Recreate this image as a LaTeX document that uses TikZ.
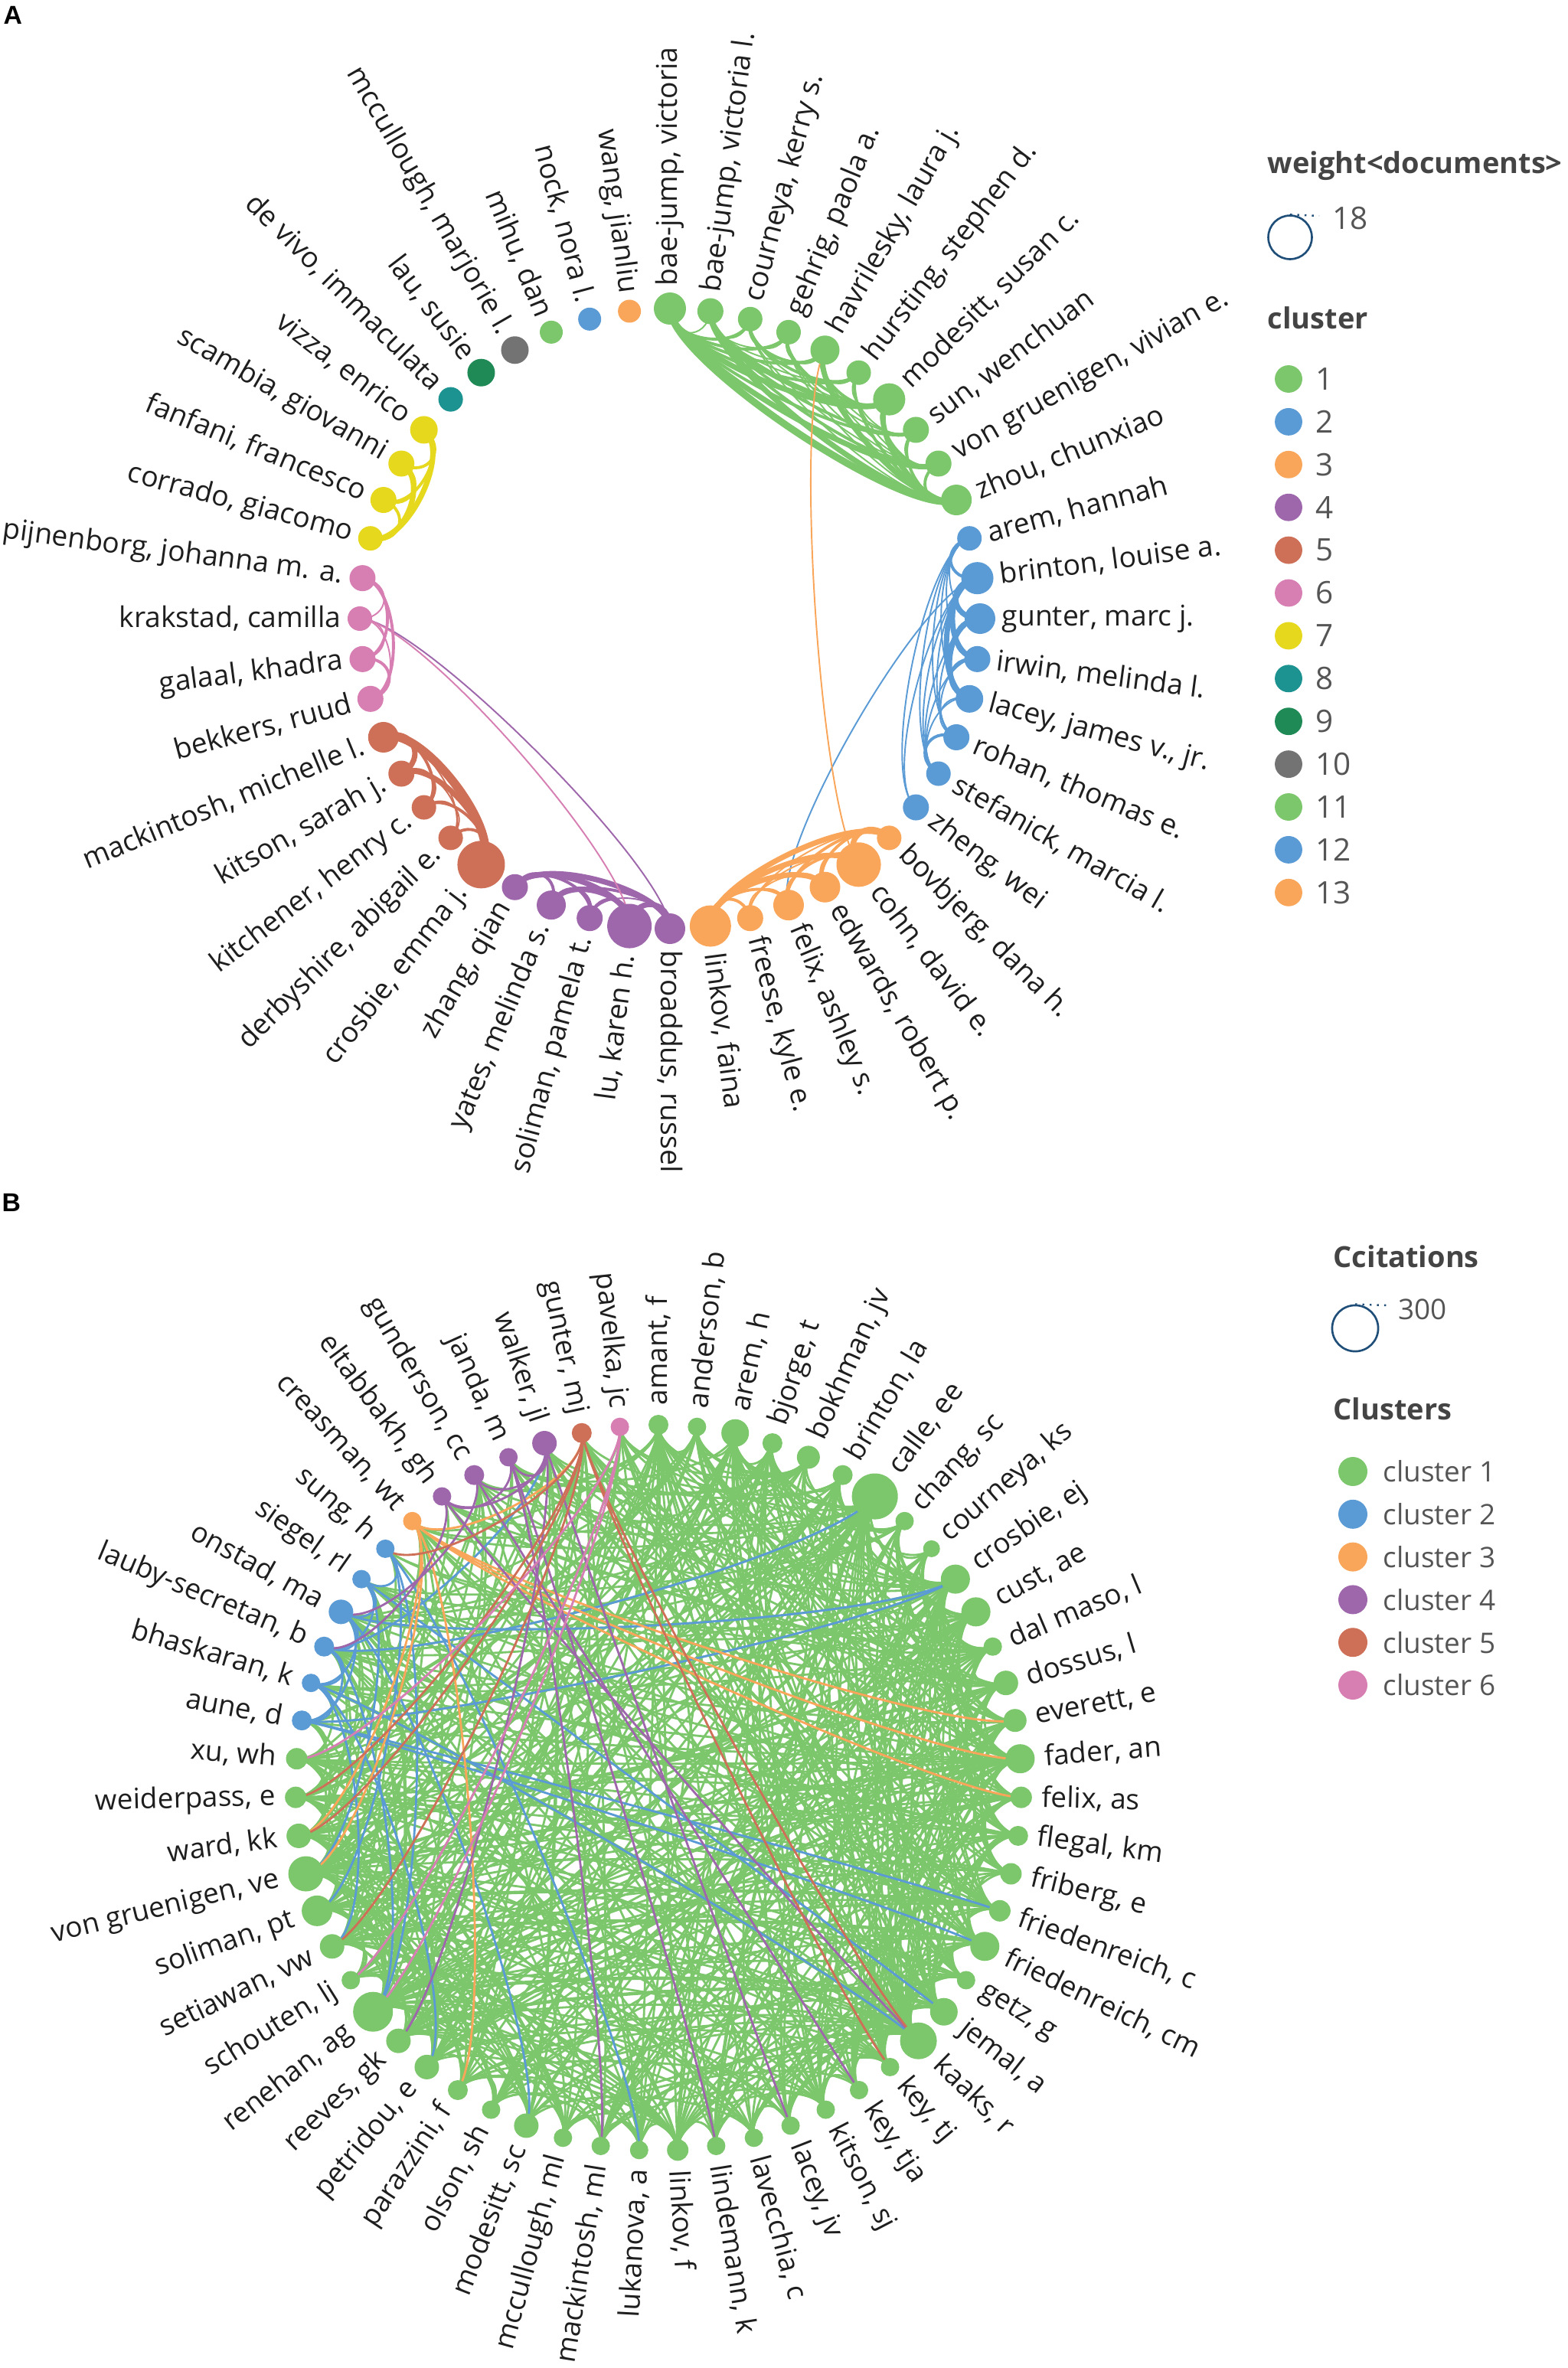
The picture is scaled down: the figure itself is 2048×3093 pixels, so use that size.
\documentclass[tikz,border=0pt]{standalone}
\usepackage{fontspec}
\setmainfont{Open Sans}
\newfontfamily\letterfont{Liberation Sans}
\pgfdeclarelayer{bg}
\pgfsetlayers{bg,main}
\definecolor{cA}{HTML}{7CC66B}
\definecolor{cB}{HTML}{5B9BD5}
\definecolor{cC}{HTML}{F9A65A}
\definecolor{cD}{HTML}{9E67AB}
\definecolor{cE}{HTML}{CE7058}
\definecolor{cF}{HTML}{D77FB3}
\definecolor{cG}{HTML}{E6D81C}
\definecolor{cH}{HTML}{1C9390}
\definecolor{cI}{HTML}{1F8A56}
\definecolor{cJ}{HTML}{737373}
\definecolor{txt}{HTML}{1E1E1E}
\definecolor{legtxt}{HTML}{555555}
\definecolor{legtitle}{HTML}{444444}
\definecolor{navy}{HTML}{1F4E79}
% curved connector between two named nodes on a circle (centre \cx,\cy radius \cR)
\newcommand\lnk[3][]{%
  \pgfmathsetmacro\ta{\csname nang#2\endcsname}%
  \pgfmathsetmacro\tb{\csname nang#3\endcsname}%
  \pgfmathsetmacro\ss{0.09+0.14*abs(sin((\ta-\tb)/2))}%
  \pgfmathsetmacro\rr{(1-\ss)*\cR}%
  \draw[#1] (#2.center) .. controls ({\cx+\rr*cos(\ta)},{\cy-\rr*sin(\ta)}) and ({\cx+\rr*cos(\tb)},{\cy-\rr*sin(\tb)}) .. (#3.center);}
\tikzset{
  nd/.style={circle, inner sep=0pt, draw=none},
  labA/.style={inner sep=0pt, text=txt, font=\fontsize{10.6}{13}\selectfont},
  labB/.style={inner sep=0pt, text=txt, font=\fontsize{10.5}{12.5}\selectfont},
  thk/.style={line width=2pt},
  med/.style={line width=1.1pt},
  thn/.style={line width=0.55pt},
  legtit/.style={anchor=west, inner sep=0pt, text=legtitle, font=\bfseries\fontsize{10.8}{13}\selectfont},
  legnum/.style={anchor=west, inner sep=0pt, text=legtxt, font=\fontsize{11.5}{13}\selectfont},
  legtxtB/.style={anchor=west, inner sep=0pt, text=legtxt, font=\fontsize{10.5}{12.5}\selectfont},
  panel/.style={anchor=north west, inner sep=0pt, font=\letterfont\bfseries\fontsize{9.6}{11}\selectfont}
}
\def\Brad{{13,12,18,13,15,13,30,12,11,19,19,12,16,15,19,14,13,14,14,19,12,18,24,12,12,12,12,12,12,14,12,12,12,16,12,13,16,16,26,12,16,20,23,16,14,14,13,12,13,16,12,12,12,12,13,12,16,13,12}}
\begin{document}
\begin{tikzpicture}[x=0.01cm,y=-0.01cm]
\useasboundingbox (0,0) rectangle (2048,3093);
\node[panel] (pA) at (4,8) {A};
\node[panel] (pB) at (2,1559) {B};
% ================= Panel A =================
\foreach \k/\nm/\r/\c/\id in {
0/{bae-jump, victoria}/21/cA/bv,
1/{bae-jump, victoria l.}/17/cA/bvl,
2/{courneya, kerry s.}/16/cA/cou,
3/{gehrig, paola a.}/16/cA/geh,
4/{havrilesky, laura j.}/19/cA/hav,
5/{hursting, stephen d.}/16/cA/hur,
6/{modesitt, susan c.}/21/cA/mod,
7/{sun, wenchuan}/17/cA/sun,
8/{von gruenigen, vivian e.}/17/cA/vgr,
9/{zhou, chunxiao}/20/cA/zho,
10/{arem, hannah}/16/cB/are,
11/{brinton, louise a.}/21/cB/bri,
12/{gunter, marc j.}/20/cB/gun,
13/{irwin, melinda l.}/17/cB/irw,
14/{lacey, james v., jr.}/18/cB/lac,
15/{rohan, thomas e.}/17/cB/roh,
16/{stefanick, marcia l.}/16/cB/ste,
17/{zheng, wei}/17/cB/zhe,
18/{bovbjerg, dana h.}/16/cC/bov,
19/{cohn, david e.}/29/cC/coh,
20/{edwards, robert p.}/20/cC/edw,
21/{felix, ashley s.}/20/cC/fel,
22/{freese, kyle e.}/17/cC/fre,
23/{linkov, faina}/27/cC/lin,
24/{broaddus, russel}/20/cD/bro,
25/{lu, karen h.}/29/cD/klu,
26/{soliman, pamela t.}/17/cD/sol,
27/{yates, melinda s.}/19/cD/yat,
28/{zhang, qian}/17/cD/zha,
29/{crosbie, emma j.}/31/cE/cro,
30/{derbyshire, abigail e.}/16/cE/der,
31/{kitchener, henry c.}/16/cE/kit,
32/{kitson, sarah j.}/17/cE/kis,
33/{mackintosh, michelle l.}/20/cE/mac,
34/{bekkers, ruud}/17/cF/bek,
35/{galaal, khadra}/17/cF/gal,
36/{krakstad, camilla}/16/cF/kra,
37/{pijnenborg, johanna m. a.}/17/cF/pij,
38/{corrado, giacomo}/16/cG/cor,
39/{fanfani, francesco}/17/cG/fan,
40/{scambia, giovanni}/17/cG/sca,
41/{vizza, enrico}/18/cG/viz,
42/{de vivo, immaculata}/16/cH/dev,
43/{lau, susie}/18/cI/lau,
44/{mccullough, marjorie l.}/18/cJ/mcc,
45/{mihu, dan}/15/cA/mih,
46/{nock, nora l.}/15/cB/noc,
47/{wang, jianliu}/15/cC/wan}{
  \pgfmathsetmacro\ang{90-7.5*\k}
  \expandafter\xdef\csname nang\id\endcsname{\ang}
  \pgfmathsetmacro\dd{0.5690552*\r}
  \pgfmathsetmacro\lr{405+\r+8}
  \pgfmathsetmacro\cs{cos(\ang)}
  \node[nd, fill=\c, minimum size=\dd pt] (\id) at ({875+405*cos(\ang)},{808-405*sin(\ang)}) {};
  \ifdim\cs pt>-0.01pt
    \node[labA, anchor=west, rotate=\ang] (l\id) at ({875+\lr*cos(\ang)},{808-\lr*sin(\ang)}) {\nm};
  \else
    \pgfmathsetmacro\angb{\ang+180}
    \node[labA, anchor=east, rotate=\angb] (l\id) at ({875+\lr*cos(\ang)},{808-\lr*sin(\ang)}) {\nm};
  \fi
}
\def\cx{875}\def\cy{808}\def\cR{405}
\begin{pgfonlayer}{bg}
% cluster 1
\lnk[cA,line width=2.6pt]{bv}{zho}
\foreach \a/\b in {bv/vgr,bv/mod,bvl/zho,bvl/mod,hav/zho,mod/zho}{\lnk[cA,thk]{\a}{\b}}
\foreach \a/\b in {bv/sun,bv/hur,bv/hav,bv/geh,bv/cou,bvl/vgr,bvl/sun,cou/hav,cou/hur,geh/mod,hur/zho,sun/zho,vgr/zho,mod/vgr,hav/mod}{\lnk[cA,med]{\a}{\b}}
\foreach \a/\b in {bv/bvl,bvl/cou,bvl/geh,bvl/hav,bvl/hur,cou/geh,cou/mod,cou/zho,geh/hav,geh/zho,geh/vgr,hav/hur,hav/sun,hav/vgr,hur/mod,hur/sun,hur/vgr,mod/sun,sun/vgr,cou/vgr,geh/sun}{\lnk[cA,thn]{\a}{\b}}
% cluster 2
\foreach \a/\b in {bri/gun,gun/lac,bri/lac,bri/irw}{\lnk[cB,thk]{\a}{\b}}
\foreach \a/\b in {gun/irw,irw/lac,roh/ste,are/bri}{\lnk[cB,med]{\a}{\b}}
\foreach \a/\b in {are/gun,are/irw,are/lac,are/roh,are/ste,are/zhe,bri/roh,bri/ste,bri/zhe,gun/roh,gun/ste,irw/roh,irw/ste,lac/roh,lac/ste,bri/fel}{\lnk[cB,thn]{\a}{\b}}
% cluster 3
\foreach \a/\b in {lin/bov,lin/coh,lin/edw,coh/bov}{\lnk[cC,thk]{\a}{\b}}
\foreach \a/\b in {lin/fel,lin/fre,coh/edw,coh/fel,edw/bov,fel/bov}{\lnk[cC,med]{\a}{\b}}
\foreach \a/\b in {fre/coh,fre/edw,fre/bov,fel/edw,fel/fre,coh/hav}{\lnk[cC,thn]{\a}{\b}}
% cluster 4
\foreach \a/\b in {zha/klu,zha/bro,yat/klu,klu/bro}{\lnk[cD,thk]{\a}{\b}}
\foreach \a/\b in {zha/yat,zha/sol,yat/sol,sol/klu,yat/bro}{\lnk[cD,med]{\a}{\b}}
\foreach \a/\b in {sol/bro,kra/bro}{\lnk[cD,thn]{\a}{\b}}
% cluster 5
\lnk[cE,line width=3.2pt]{mac}{cro}
\foreach \a/\b in {kis/cro,mac/kis}{\lnk[cE,thk]{\a}{\b}}
\foreach \a/\b in {kit/cro,der/cro,mac/kit,kis/kit}{\lnk[cE,med]{\a}{\b}}
\foreach \a/\b in {mac/der,kis/der,kit/der}{\lnk[cE,thn]{\a}{\b}}
% cluster 6
\foreach \a/\b in {pij/bek,gal/bek,pij/gal}{\lnk[cF,med]{\a}{\b}}
\foreach \a/\b in {pij/kra,kra/gal,kra/bek,kra/klu}{\lnk[cF,thn]{\a}{\b}}
% cluster 7
\foreach \a/\b in {viz/cor,sca/cor}{\lnk[cG,thk]{\a}{\b}}
\foreach \a/\b in {viz/fan,fan/cor,viz/sca,sca/fan}{\lnk[cG,med]{\a}{\b}}
\end{pgfonlayer}
% legend A
\node[legtit] (tA1) at (1655,217) {weight<documents>};
\node[circle, draw=navy, line width=0.75pt, minimum size=16.2pt, inner sep=0pt] (szA) at (1685,310) {};
\coordinate (dA) at (1723,282);
\draw[navy, dotted, line width=0.7pt] (szA.north) -- (dA);
\node[legnum] (nA) at (1740,285) {18};
\node[legtit] (tA2) at (1655,415) {cluster};
\foreach \i/\c in {1/cA,2/cB,3/cC,4/cD,5/cE,6/cF,7/cG,8/cH,9/cI,10/cJ,11/cA,12/cB,13/cC}{
  \pgfmathsetmacro\yy{495+55.9*(\i-1)}
  \node[nd, fill=\c, minimum size=10.2pt] (kA\i) at (1683,\yy) {};
  \node[legnum] (kAt\i) at (1718,\yy) {\i};
}
% ================= Panel B =================
\foreach \k/\nm/\c in {
0/{amant, f}/cA, 1/{anderson, b}/cA, 2/{arem, h}/cA, 3/{bjorge, t}/cA, 4/{bokhman, jv}/cA,
5/{brinton, la}/cA, 6/{calle, ee}/cA, 7/{chang, sc}/cA, 8/{courneya, ks}/cA, 9/{crosbie, ej}/cA,
10/{cust, ae}/cA, 11/{dal maso, l}/cA, 12/{dossus, l}/cA, 13/{everett, e}/cA, 14/{fader, an}/cA,
15/{felix, as}/cA, 16/{flegal, km}/cA, 17/{friberg, e}/cA, 18/{friedenreich, c}/cA, 19/{friedenreich, cm}/cA,
20/{getz, g}/cA, 21/{jemal, a}/cA, 22/{kaaks, r}/cA, 23/{key, tj}/cA, 24/{key, tja}/cA,
25/{kitson, sj}/cA, 26/{lacey, jv}/cA, 27/{lavecchia, c}/cA, 28/{lindemann, k}/cA, 29/{linkov, f}/cA,
30/{lukanova, a}/cA, 31/{mackintosh, ml}/cA, 32/{mccullough, ml}/cA, 33/{modesitt, sc}/cA, 34/{olson, sh}/cA,
35/{parazzini, f}/cA, 36/{petridou, e}/cA, 37/{reeves, gk}/cA, 38/{renehan, ag}/cA, 39/{schouten, lj}/cA,
40/{setiawan, vw}/cA, 41/{soliman, pt}/cA, 42/{von gruenigen, ve}/cA, 43/{ward, kk}/cA, 44/{weiderpass, e}/cA,
45/{xu, wh}/cA, 46/{aune, d}/cB, 47/{bhaskaran, k}/cB, 48/{lauby-secretan, b}/cB, 49/{onstad, ma}/cB,
50/{siegel, rl}/cB, 51/{sung, h}/cB, 52/{creasman, wt}/cC, 53/{eltabbakh, gh}/cD, 54/{gunderson, cc}/cD,
55/{janda, m}/cD, 56/{walker, jl}/cD, 57/{gunter, mj}/cE, 58/{pavelka, jc}/cF}{
  \pgfmathsetmacro\ang{90-360/59*\k}
  \expandafter\xdef\csname nangb\k\endcsname{\ang}
  \pgfmathsetmacro\r{\Brad[\k]}
  \pgfmathsetmacro\dd{0.5690552*\r}
  \pgfmathsetmacro\lr{474+\r+12}
  \pgfmathsetmacro\cs{cos(\ang)}
  \node[nd, fill=\c, minimum size=\dd pt] (b\k) at ({860+474*cos(\ang)},{2335-474*sin(\ang)}) {};
  \ifdim\cs pt>-0.01pt
    \node[labB, anchor=west, rotate=\ang] (lb\k) at ({860+\lr*cos(\ang)},{2335-\lr*sin(\ang)}) {\nm};
  \else
    \pgfmathsetmacro\angb{\ang+180}
    \node[labB, anchor=east, rotate=\angb] (lb\k) at ({860+\lr*cos(\ang)},{2335-\lr*sin(\ang)}) {\nm};
  \fi
}
\def\cx{860}\def\cy{2335}\def\cR{474}
\begin{pgfonlayer}{bg}
\pgfmathsetseed{4242}
\foreach \i in {0,...,45}{
  \pgfmathtruncatemacro\js{\i+1}
  \foreach \j in {\js,...,58}{
    \pgfmathsetmacro\pp{max(0.1,0.19+0.02*(\Brad[\i]+\Brad[\j]-24))*((\j>45) ? 0.7 : 1)}
    \pgfmathsetmacro\uu{rnd}
    \ifdim\uu pt<\pp pt
      \pgfmathsetmacro\ww{(rnd<0.12) ? 1.25 : 0.8}
      \lnk[cA, line width=\ww pt]{b\i}{b\j}
    \fi
  }
}
\foreach \i in {0,...,44}{
  \pgfmathtruncatemacro\jn{\i+1}
  \lnk[cA, line width=0.8pt]{b\i}{b\jn}
}
\foreach \a/\b in {46/47,47/48,48/49,49/50,50/51,46/48,47/49,48/50,46/49,51/41,51/38,50/42,50/21,49/9,49/33,48/38,48/6,47/36,47/22,46/9,46/19,47/40,51/30,46/18,48/56}{\lnk[cB,line width=0.8pt]{b\a}{b\b}}
\foreach \a/\b in {52/15,52/14,52/43,52/35,52/13,52/57,52/42}{\lnk[cC,line width=0.8pt]{b\a}{b\b}}
\foreach \a/\b in {53/56,54/56,55/56,53/55,53/48,55/28,56/26,54/24,53/22,56/37,55/31,54/49}{\lnk[cD,line width=0.8pt]{b\a}{b\b}}
\foreach \a/\b in {57/23,57/44,57/43,57/40,57/51,57/22}{\lnk[cE,line width=0.8pt]{b\a}{b\b}}
\foreach \a/\b in {58/45,58/39,58/38}{\lnk[cF,line width=0.8pt]{b\a}{b\b}}
\end{pgfonlayer}
% legend B
\node[legtit] (tB1) at (1741,1641) {Ccitations};
\node[circle, draw=navy, line width=0.75pt, minimum size=17.1pt, inner sep=0pt] (szB) at (1770,1735) {};
\coordinate (dB) at (1815,1705);
\draw[navy, dotted, line width=0.7pt] (szB.north) -- (dB);
\node[legtxtB] (nB) at (1826,1710) {300};
\node[legtit] (tB2) at (1741,1840) {Clusters};
\foreach \i/\c in {1/cA,2/cB,3/cC,4/cD,5/cE,6/cF}{
  \pgfmathsetmacro\yy{1922+55.8*(\i-1)}
  \node[nd, fill=\c, minimum size=10.8pt] (kB\i) at (1767,\yy) {};
  \node[legtxtB] (kBt\i) at (1806,\yy) {cluster \i};
}
\end{tikzpicture}
\end{document}
